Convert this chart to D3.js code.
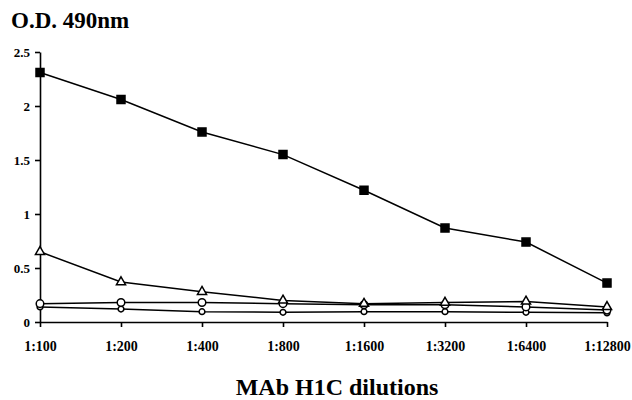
<!DOCTYPE html>
<html>
<head>
<meta charset="utf-8">
<script src="https://cdn.jsdelivr.net/npm/d3@7"></script>
<style>
  body { margin: 0; background: #fff; }
  text { font-family: "Liberation Serif", "Times New Roman", serif; font-weight: bold; fill: #000; }
</style>
</head>
<body>
<div id="chart"></div>
<script>
// dilution categories along x
var dilutions = ["1:100", "1:200", "1:400", "1:800", "1:1600", "1:3200", "1:6400", "1:12800"];
var yTicks = [0, 0.5, 1, 1.5, 2, 2.5];

// O.D. readings, one array per series
var squareSeries = [2.31, 2.06, 1.76, 1.55, 1.22, 0.87, 0.74, 0.36];
var triangleSeries = [0.65, 0.37, 0.28, 0.20, 0.17, 0.18, 0.19, 0.14];
var circleSeries = [0.17, 0.18, 0.18, 0.17, 0.16, 0.16, 0.14, 0.11];
var smallCircleSeries = [0.14, 0.12, 0.095, 0.09, 0.095, 0.095, 0.09, 0.085];

var svgWidth = 632;
var svgHeight = 400;

var svg = d3.select("#chart")
  .append("svg")
  .attr("width", svgWidth)
  .attr("height", svgHeight);

var x = d3.scalePoint()
  .domain(dilutions)
  .range([40, 607]);

var y = d3.scaleLinear()
  .domain([0, 2.5])
  .range([322, 52]);

// axes
var yAxis = svg.append("g")
  .attr("transform", "translate(40,0)")
  .call(d3.axisLeft(y).tickValues(yTicks).tickFormat(d => String(d)).tickSize(5).tickSizeOuter(0).tickPadding(5));

var xAxis = svg.append("g")
  .attr("transform", "translate(0,322)")
  .call(d3.axisBottom(x).tickSize(5).tickSizeOuter(0).tickPadding(14));

svg.selectAll(".domain, .tick line")
  .attr("stroke", "#000")
  .attr("stroke-width", 1.6);
yAxis.selectAll("text").attr("font-size", 13);
xAxis.selectAll("text").attr("font-size", 14);

var line = d3.line()
  .x((d, i) => x(dilutions[i]))
  .y(d => y(d));

var series = [
  { values: smallCircleSeries, shape: "smallcircle" },
  { values: circleSeries, shape: "circle" },
  { values: triangleSeries, shape: "triangle" },
  { values: squareSeries, shape: "square" }
];

series.forEach(function(s) {
  svg.append("path")
    .datum(s.values)
    .attr("fill", "none")
    .attr("stroke", "#000")
    .attr("stroke-width", 1.5)
    .attr("d", line);
});

series.forEach(function(s) {
  var g = svg.append("g");
  var pts = g.selectAll("path.m")
    .data(s.values)
    .enter()
    .append("path")
    .attr("class", "m")
    .attr("transform", (d, i) => `translate(${x(dilutions[i])},${y(d)})`)
    .attr("stroke", "#000")
    .attr("stroke-width", 1.5);

  if (s.shape === "square") {
    pts.attr("d", d3.symbol(d3.symbolSquare, 64)).attr("fill", "#000");
  } else if (s.shape === "triangle") {
    pts.attr("d", d3.symbol(d3.symbolTriangle, 36)).attr("fill", "#fff");
  } else if (s.shape === "circle") {
    pts.attr("d", d3.symbol(d3.symbolCircle, 45)).attr("fill", "#fff");
  } else {
    pts.attr("d", d3.symbol(d3.symbolCircle, 26)).attr("fill", "#fff");
  }
});

// titles
svg.append("text")
  .attr("x", 11)
  .attr("y", 28)
  .attr("font-size", 23)
  .text("O.D. 490nm");

svg.append("text")
  .attr("x", 337)
  .attr("y", 395)
  .attr("text-anchor", "middle")
  .attr("font-size", 24)
  .text("MAb H1C dilutions");
</script>
</body>
</html>
